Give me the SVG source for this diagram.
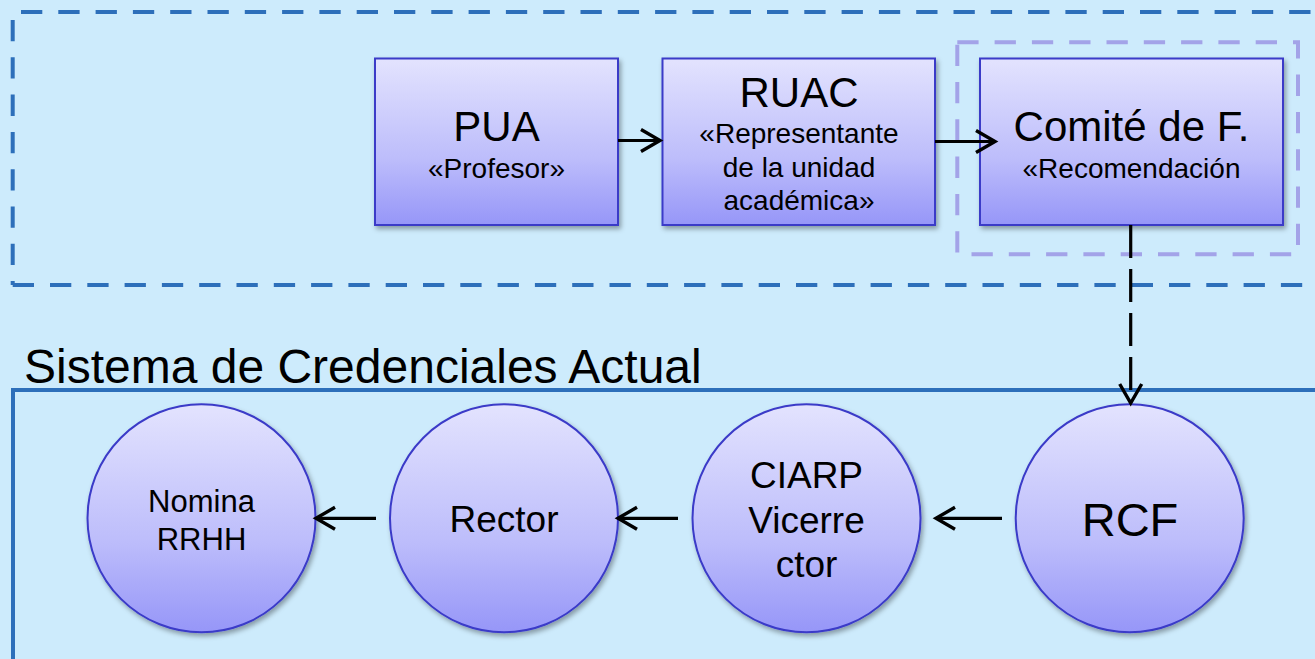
<svg xmlns="http://www.w3.org/2000/svg" width="1315" height="659" viewBox="0 0 1315 659">
<style>
.bg{fill:#cdebfc}
.node{fill:url(#g);stroke:#3a3ac8;stroke-width:2;filter:url(#sh)}
.t{font-family:"Liberation Sans",Arial,sans-serif;fill:#000;text-anchor:middle}
.big{font-size:42px}
.sub{font-size:28px}
.c37{font-size:37px}
.conn{fill:none;stroke:#000;stroke-width:3.2;marker-end:url(#arr)}
.dash{stroke-dasharray:33 11}
.outer{fill:none;stroke:#2d6fba;stroke-width:4;stroke-dasharray:21.3 16}
.lav{fill:none;stroke:#a3a3e8;stroke-width:4;stroke-dasharray:21.3 16}
</style>
<defs>
<linearGradient id="g" x1="0" y1="0" x2="0" y2="1">
<stop offset="0" stop-color="#e3e3fe"/>
<stop offset="0.6" stop-color="#bdbdfb"/>
<stop offset="1" stop-color="#9696f8"/>
</linearGradient>
<filter id="sh" x="-10%" y="-10%" width="125%" height="125%">
<feDropShadow dx="2" dy="3" stdDeviation="2.5" flood-color="#000" flood-opacity="0.35"/>
</filter>
<marker id="arr" markerUnits="userSpaceOnUse" markerWidth="40" markerHeight="40" viewBox="-30 -20 40 40" refX="0" refY="0" orient="auto" overflow="visible">
<path d="M-19,-11 L0,0 L-19,11" fill="none" stroke="#000" stroke-width="3.4" stroke-linejoin="miter"/>
</marker>
</defs>
<rect class="bg" x="0" y="0" width="1315" height="659"/>
<g id="frame-top">
<line class="outer" x1="21" y1="12" x2="1315" y2="12"/>
<line class="outer" x1="12.7" y1="20" x2="12.7" y2="285"/>
<line class="outer" x1="12.7" y1="285" x2="1315" y2="285"/>
</g>
<g id="frame-bottom">
<text class="t" x="24" y="383" style="font-size:48px;text-anchor:start">Sistema de Credenciales Actual</text>
<path d="M1320,390 H13 V665" fill="none" stroke="#2d6fba" stroke-width="4"/>
</g>
<g id="node-pua">
<rect class="node" x="375" y="58.5" width="243" height="166.5"/>
<text class="t big" x="496.5" y="140.5">PUA</text>
<text class="t sub" x="496.5" y="177.5">«Profesor»</text>
</g>
<g id="node-ruac">
<rect class="node" x="662.5" y="58.5" width="272.5" height="166.5"/>
<text class="t big" x="799" y="106.5">RUAC</text>
<text class="t sub" x="799" y="143">«Representante</text>
<text class="t sub" x="799" y="177">de la unidad</text>
<text class="t sub" x="799" y="210">académica»</text>
</g>
<g id="node-comite">
<rect class="node" x="980" y="58.5" width="303" height="166.5"/>
<text class="t big" x="1131.5" y="140.5">Comité de F.</text>
<text class="t sub" x="1131.5" y="177.5">«Recomendación</text>
</g>
<g id="group-comite">
<rect class="lav" x="957.3" y="42.3" width="340.7" height="212"/>
</g>
<g id="node-nomina">
<circle class="node" cx="201.5" cy="518.3" r="114"/>
<text class="t" x="201.5" y="512.3" style="font-size:31px">Nomina</text>
<text class="t" x="201.5" y="550" style="font-size:31px">RRHH</text>
</g>
<g id="node-rector">
<circle class="node" cx="504" cy="518.3" r="114"/>
<text class="t c37" x="504" y="531.5">Rector</text>
</g>
<g id="node-ciarp">
<circle class="node" cx="806.5" cy="518.3" r="114"/>
<text class="t c37" x="806.5" y="487.7">CIARP</text>
<text class="t c37" x="806.5" y="532.5">Vicerre</text>
<text class="t c37" x="806.5" y="576.7">ctor</text>
</g>
<g id="node-rcf">
<circle class="node" cx="1129.7" cy="518.3" r="114"/>
<text class="t" x="1130" y="536" style="font-size:47px">RCF</text>
</g>
<g id="connectors">
<path class="conn" d="M618,140.5 H660"/>
<path class="conn" d="M935,141.5 H995"/>
<path class="conn dash" d="M1130.7,225 V403"/>
<path class="conn" d="M376,518.3 H316"/>
<path class="conn" d="M678,518.3 H618"/>
<path class="conn" d="M1002,518.3 H936"/>
</g>
</svg>
